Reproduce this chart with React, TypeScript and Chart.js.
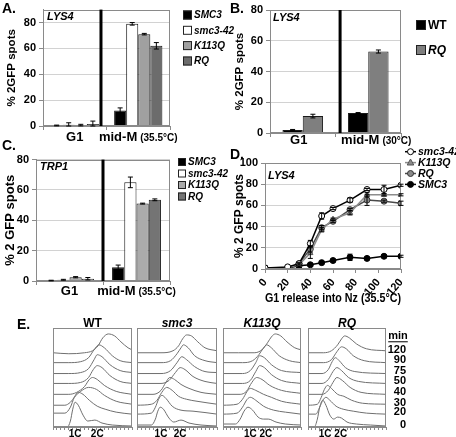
import React, { useEffect, useRef } from "react";
import { Chart, registerables } from "chart.js";
Chart.register(...registerables);

const FONT = "'Liberation Sans', Arial, Helvetica, sans-serif";
Chart.defaults.font.family = FONT;
Chart.defaults.color = "#000";
const fnt = (size: number, italic = false) => `${italic ? "italic " : ""}bold ${size}px ${FONT}`;

// ---------------- Panel A data ----------------
const catsA = ["G1", "mid-M"];
const notesA = ["", "(35.5°C)"];
const namesA = ["SMC3", "smc3-42", "K113Q", "RQ"];
const A_SMC3 = [0.4, 12];
const A_smc342 = [1.0, 79];
const A_K113Q = [0.7, 71];
const A_RQ = [1.5, 62];
const A_SMC3_err = [0.3, 2];
const A_smc342_err = [1.5, 1];
const A_K113Q_err = [0.6, 0.6];
const A_RQ_err = [2.3, 2.5];

// ---------------- Panel B data ----------------
const catsB = ["G1", "mid-M"];
const notesB = ["", "(30°C)"];
const namesB = ["WT", "RQ"];
const B_WT = [2, 13];
const B_RQ = [11, 53];
const B_WT_err = [0.3, 0.3];
const B_RQ_err = [1.2, 1];

// ---------------- Panel C data ----------------
const catsC = ["G1", "mid-M"];
const notesC = ["", "(35.5°C)"];
const namesC = ["SMC3", "smc3-42", "K113Q", "RQ"];
const C_SMC3 = [0.3, 9];
const C_smc342 = [0.8, 65];
const C_K113Q = [2.5, 51];
const C_RQ = [1.5, 53.5];
const C_SMC3_err = [0.2, 1.5];
const C_smc342_err = [0.3, 3.5];
const C_K113Q_err = [0.4, 0.3];
const C_RQ_err = [0.8, 0.6];

// ---------------- Panel D data ----------------
const timesD = [0, 20, 30, 40, 50, 60, 75, 90, 105, 120];
const namesD = ["smc3-42", "K113Q", "RQ", "SMC3"];
const D_smc342 = [1, 2, 5, 24, 50, 57, 65, 75, 75, 79];
const D_K113Q = [1, 1.5, 4, 15, 37, 47, 53, 70, 70, 70];
const D_RQ = [1, 1, 5, 19, 39, 45, 56, 65, 64, 62];
const D_SMC3 = [1, 1, 3, 4, 6, 8, 11, 10, 12, 12];
const D_smc342_err = [0, 0, 0, 3, 3, 1, 2, 1, 4, 1];
const D_K113Q_err = [0, 0, 1, 5, 2, 1, 2, 2, 1, 1];
const D_RQ_err = [0, 0, 1, 3, 2, 1, 1, 5, 1, 2];
const D_SMC3_err = [0, 0, 0, 1, 1, 1, 3, 1, 1, 1];

// ---------------- Panel E data (flow histograms, x = % of DNA axis, y = stacked offset) ----------------
const timesE = ["0", "20", "30", "40", "50", "75", "90", "120"];
const strainsE = ["WT", "smc3", "K113Q", "RQ"];
const pos1C = [28, 30, 35, 22];
const pos2C = [56, 54, 55, 42];
const histWT = [
  [[0, 0], [18, 0], [22, 6], [25, 18], [28, 25], [32, 22], [38, 12], [44, 6], [53, 7], [62, 4], [75, 2], [100, 1]],
  [[0, 14], [15, 14], [22, 20], [27, 30], [32, 35], [38, 33], [46, 27], [56, 21], [66, 18], [80, 15], [100, 13]],
  [[0, 22], [15, 22], [22, 25], [28, 31], [35, 36], [45, 40], [55, 38], [65, 32], [80, 26], [100, 23]],
  [[0, 33], [20, 33], [30, 35], [40, 41], [46, 48], [50, 50], [56, 48], [65, 42], [80, 36], [100, 33]],
  [[0, 44], [20, 44], [35, 45], [45, 50], [51, 58], [56, 62], [62, 60], [72, 52], [85, 46], [100, 44]],
  [[0, 54], [20, 54], [35, 55], [45, 59], [52, 68], [56, 73], [62, 71], [72, 63], [85, 57], [100, 55]],
  [[0, 65], [20, 65], [35, 66], [45, 70], [52, 78], [58, 83], [65, 80], [75, 72], [85, 67], [100, 65]],
  [[0, 75], [20, 74], [40, 75], [50, 77], [57, 82], [63, 90], [70, 94], [78, 92], [86, 86], [95, 80], [100, 78]],
];
const histSmc3 = [
  [[0, 2], [18, 2], [23, 8], [26, 16], [29, 20], [33, 18], [40, 9], [46, 5], [55, 7], [65, 4], [80, 2], [100, 1]],
  [[0, 13], [18, 14], [23, 20], [27, 28], [31, 32], [36, 29], [44, 21], [55, 17], [70, 16], [100, 13]],
  [[0, 22], [18, 23], [25, 27], [31, 35], [37, 40], [44, 37], [52, 31], [62, 28], [75, 26], [100, 23]],
  [[0, 33], [20, 33], [30, 37], [36, 45], [41, 50], [47, 48], [55, 43], [65, 39], [80, 35], [100, 33]],
  [[0, 44], [30, 44], [40, 47], [48, 55], [54, 60], [60, 58], [70, 51], [85, 46], [100, 44]],
  [[0, 54], [30, 54], [42, 57], [50, 65], [56, 71], [62, 68], [72, 61], [85, 56], [100, 55]],
  [[0, 65], [30, 65], [42, 67], [50, 74], [55, 80], [58, 83], [64, 80], [72, 72], [85, 67], [100, 65]],
  [[0, 75], [30, 75], [45, 77], [52, 82], [57, 89], [62, 93], [68, 92], [76, 86], [85, 80], [100, 77]],
];
const histK113Q = [
  [[0, 3], [16, 3], [22, 8], [27, 16], [32, 20], [38, 17], [45, 10], [52, 8], [58, 8], [68, 5], [80, 3], [100, 2]],
  [[0, 13], [18, 14], [25, 20], [31, 28], [35, 30], [42, 27], [52, 21], [65, 17], [80, 15], [100, 13]],
  [[0, 22], [18, 23], [25, 28], [31, 36], [35, 39], [42, 37], [52, 33], [62, 30], [75, 26], [100, 23]],
  [[0, 33], [22, 33], [30, 36], [37, 45], [43, 50], [50, 48], [60, 42], [75, 37], [100, 34]],
  [[0, 44], [25, 44], [35, 47], [42, 56], [47, 62], [53, 60], [62, 53], [75, 47], [100, 44]],
  [[0, 54], [25, 54], [35, 57], [42, 65], [47, 72], [53, 70], [62, 63], [75, 57], [100, 55]],
  [[0, 65], [25, 65], [38, 67], [46, 73], [52, 80], [56, 83], [62, 80], [72, 72], [85, 67], [100, 65]],
  [[0, 75], [20, 75], [40, 75], [50, 78], [57, 85], [62, 91], [67, 94], [74, 92], [82, 86], [92, 80], [100, 78]],
];
const histRQ = [
  [[0, 0], [8, 0], [12, 8], [15, 20], [19, 27], [23, 22], [28, 12], [33, 8], [38, 10], [43, 9], [50, 5], [62, 3], [80, 2], [100, 1]],
  [[0, 13], [10, 13], [15, 20], [19, 27], [23, 30], [28, 27], [36, 21], [45, 18], [58, 16], [75, 14], [100, 13]],
  [[0, 22], [12, 23], [17, 30], [21, 38], [25, 42], [30, 39], [38, 33], [46, 31], [56, 27], [70, 24], [100, 23]],
  [[0, 33], [18, 33], [26, 37], [32, 45], [37, 50], [44, 47], [54, 40], [68, 35], [100, 33]],
  [[0, 44], [18, 44], [26, 48], [32, 56], [37, 60], [43, 57], [52, 50], [65, 46], [100, 44]],
  [[0, 54], [18, 54], [26, 58], [31, 66], [35, 70], [40, 67], [48, 60], [60, 56], [100, 54]],
  [[0, 65], [20, 65], [30, 68], [37, 76], [43, 81], [49, 79], [58, 72], [72, 67], [100, 65]],
  [[0, 75], [20, 75], [30, 77], [38, 83], [43, 89], [47, 92], [53, 90], [62, 84], [75, 79], [100, 77]],
];

// ---------------- helpers ----------------
const BORDER = "#8a8a8a";
const GRID = "#d2d2d2";

function drawBox(ctx: any, ca: any) {
  ctx.strokeStyle = BORDER;
  ctx.lineWidth = 1;
  ctx.strokeRect(Math.round(ca.left) + 0.5, Math.round(ca.top) + 0.5, Math.round(ca.right - ca.left) - 1, Math.round(ca.bottom - ca.top) - 1);
}

function drawErr(ctx: any, x: number, y1: number, y2: number) {
  ctx.strokeStyle = "#000";
  ctx.lineWidth = 1;
  ctx.beginPath();
  ctx.moveTo(x, y1); ctx.lineTo(x, y2);
  ctx.moveTo(x - 2.5, y1); ctx.lineTo(x + 2.5, y1);
  ctx.moveTo(x - 2.5, y2); ctx.lineTo(x + 2.5, y2);
  ctx.stroke();
}

function barDecor(p: any) {
  return {
    id: "decor",
    afterDraw(chart: any) {
      const { ctx, chartArea: ca, scales } = chart;
      const xs = scales.x, ys = scales.y;
      ctx.save();
      drawBox(ctx, ca);
      p.series.forEach((s: any, i: number) => {
        chart.getDatasetMeta(i).data.forEach((el: any, j: number) => {
          const v = s.values[j], e = s.errors[j];
          if (!e) return;
          drawErr(ctx, el.x, ys.getPixelForValue(v + e), ys.getPixelForValue(Math.max(0, v - e)));
        });
      });
      const dx = xs.getPixelForValue(p.divider);
      ctx.fillStyle = "#000";
      ctx.fillRect(dx - 1.5, ca.top, 3, ca.bottom - ca.top);
      ctx.textBaseline = "middle";
      ctx.textAlign = "left";
      p.cats.forEach((c: string, i: number) => {
        const cx = xs.getPixelForValue(i) + (p.labelShift ? p.labelShift[i] : 0);
        ctx.font = fnt(13);
        const w1 = ctx.measureText(c).width;
        const note = p.notes[i];
        ctx.font = fnt(10);
        const w2 = note ? ctx.measureText(note).width + 3 : 0;
        const x0 = cx - (w1 + w2) / 2;
        const y = ca.bottom + p.labelDy;
        ctx.font = fnt(13);
        ctx.fillText(c, x0, y);
        if (note) {
          ctx.font = fnt(10);
          ctx.fillText(note, x0 + w1 + 3, y + 1);
        }
      });
      p.series.forEach((s: any, i: number) => {
        const y = p.legendY[i];
        const b = p.legendBox;
        ctx.fillStyle = s.color;
        ctx.fillRect(p.legendX, y - b / 2, b, b);
        ctx.strokeStyle = "#222";
        ctx.lineWidth = 1;
        ctx.strokeRect(p.legendX + 0.5, y - b / 2 + 0.5, b - 1, b - 1);
        ctx.fillStyle = "#000";
        ctx.font = fnt(p.legendFont, s.italic);
        ctx.textAlign = "left";
        ctx.fillText(s.name, p.legendX + b + 2, y + 0.5);
      });
      ctx.font = fnt(11, true);
      ctx.fillText(p.tag, ca.left + p.tagDx, ca.top + p.tagDy);
      ctx.restore();
    },
  };
}

function barConfig(p: any) {
  return {
    type: "bar",
    data: {
      labels: p.cats,
      datasets: p.series.map((s: any) => ({
        label: s.name,
        data: s.values,
        backgroundColor: s.color,
        borderColor: "#1a1a1a",
        borderWidth: 1,
        categoryPercentage: p.catPct,
        barPercentage: 1,
      })),
    },
    options: {
      animation: false,
      responsive: false,
      devicePixelRatio: 1,
      layout: { padding: { left: 0, top: p.padTop, right: p.padRight, bottom: 0 } },
      plugins: { legend: { display: false }, tooltip: { enabled: false } },
      scales: {
        x: {
          grid: { display: true, drawOnChartArea: false, drawTicks: true, tickLength: 4, color: BORDER, offset: true },
          border: { display: true, color: BORDER },
          ticks: { display: false },
          afterFit: (s: any) => { s.height = p.xAxisH; },
        },
        y: {
          min: 0,
          max: p.yMax,
          ticks: { stepSize: 10, color: "#000", font: { size: p.tickSize, weight: "bold" }, padding: 3 },
          grid: { color: GRID, tickLength: 4, tickColor: BORDER },
          border: { display: true, color: BORDER },
          title: { display: true, text: p.yTitle, color: "#000", font: { size: p.yTitleSize, weight: "bold" }, padding: { top: p.yTitlePad, bottom: 0 } },
          afterFit: (s: any) => { s.width = p.yAxisW; },
        },
      },
    },
    plugins: [barDecor(p)],
  };
}

function drawMarker(ctx: any, style: string, x: number, y: number, r: number, fill: string, edge: string) {
  ctx.beginPath();
  if (style === "triangle") {
    ctx.moveTo(x, y - r * 1.2);
    ctx.lineTo(x + r * 1.1, y + r * 0.8);
    ctx.lineTo(x - r * 1.1, y + r * 0.8);
    ctx.closePath();
  } else {
    ctx.arc(x, y, r, 0, Math.PI * 2);
  }
  ctx.fillStyle = fill;
  ctx.fill();
  ctx.strokeStyle = edge;
  ctx.lineWidth = 1;
  ctx.stroke();
}

const seriesD = [
  { name: namesD[0], values: D_smc342, errors: D_smc342_err, line: "#000", fill: "#fff", edge: "#000", marker: "circle" },
  { name: namesD[1], values: D_K113Q, errors: D_K113Q_err, line: "#8c8c8c", fill: "#8c8c8c", edge: "#555", marker: "triangle" },
  { name: namesD[2], values: D_RQ, errors: D_RQ_err, line: "#4a4a4a", fill: "#8a8a8a", edge: "#333", marker: "circle" },
  { name: namesD[3], values: D_SMC3, errors: D_SMC3_err, line: "#000", fill: "#000", edge: "#000", marker: "circle" },
];

function lineConfigD() {
  const legendY = [11.7, 22.6, 33.5, 44.4];
  return {
    type: "line",
    data: {
      datasets: seriesD.map((s) => ({
        label: s.name,
        data: timesD.map((t, i) => ({ x: t, y: s.values[i] })),
        borderColor: s.line,
        borderWidth: 1.5,
        backgroundColor: s.fill,
        pointBackgroundColor: s.fill,
        pointBorderColor: s.edge,
        pointBorderWidth: 1,
        pointRadius: 3,
        pointStyle: s.marker,
        tension: 0,
      })),
    },
    options: {
      animation: false,
      responsive: false,
      devicePixelRatio: 1,
      layout: { padding: { left: 0, top: 23, right: 55, bottom: 0 } },
      plugins: { legend: { display: false }, tooltip: { enabled: false } },
      scales: {
        x: {
          type: "linear",
          min: 0,
          max: 120,
          ticks: { stepSize: 20, color: "#000", font: { size: 11, weight: "bold" }, padding: 3 },
          grid: { drawOnChartArea: false, tickLength: 4, color: BORDER },
          border: { display: true, color: BORDER },
          title: { display: true, text: "G1 release into Nz (35.5°C)", color: "#000", font: { size: 12, weight: "bold" }, padding: { top: 2, bottom: 4 } },
          afterFit: (s: any) => { s.height = 41; },
        },
        y: {
          min: 0,
          max: 100,
          ticks: { stepSize: 20, color: "#000", font: { size: 11, weight: "bold" }, padding: 3 },
          grid: { color: GRID, tickLength: 4, tickColor: BORDER },
          border: { display: true, color: BORDER },
          title: { display: true, text: "% 2 GFP spots", color: "#000", font: { size: 12, weight: "bold" }, padding: { top: 4, bottom: 0 } },
          afterFit: (s: any) => { s.width = 37; },
        },
      },
    },
    plugins: [
      {
        id: "decorD",
        afterDraw(chart: any) {
          const { ctx, chartArea: ca, scales } = chart;
          const ys = scales.y;
          ctx.save();
          drawBox(ctx, ca);
          seriesD.forEach((s, i) => {
            chart.getDatasetMeta(i).data.forEach((el: any, j: number) => {
              const e = s.errors[j];
              if (!e) return;
              const v = s.values[j];
              drawErr(ctx, el.x, ys.getPixelForValue(v + e), ys.getPixelForValue(Math.max(0, v - e)));
            });
          });
          seriesD.forEach((s, i) => {
            const y = legendY[i];
            ctx.strokeStyle = s.line;
            ctx.lineWidth = 1.5;
            ctx.beginPath();
            ctx.moveTo(177, y);
            ctx.lineTo(188, y);
            ctx.stroke();
            drawMarker(ctx, s.marker, 182.5, y, 3, s.fill, s.edge);
            ctx.fillStyle = "#000";
            ctx.font = fnt(10.5, true);
            ctx.textBaseline = "middle";
            ctx.textAlign = "left";
            ctx.fillText(s.name, 190, y + 0.5);
          });
          ctx.font = fnt(11, true);
          ctx.textBaseline = "middle";
          ctx.fillText("LYS4", ca.left + 3, ca.top + 13);
          ctx.restore();
        },
      },
    ],
  };
}

function histConfig(curves: any[], idx: number, padLeft: number, padRight: number, withMin: boolean) {
  return {
    type: "line",
    data: {
      datasets: curves.map((c: any, i: number) => ({
        label: timesE[i],
        data: c.map(([x, y]: number[]) => ({ x, y })),
        borderColor: "#6f6f6f",
        borderWidth: 1,
        pointRadius: 0,
        cubicInterpolationMode: "monotone",
        fill: false,
      })),
    },
    options: {
      animation: false,
      responsive: false,
      devicePixelRatio: 1,
      layout: { padding: { left: padLeft, right: padRight, top: 16, bottom: 0 } },
      plugins: { legend: { display: false }, tooltip: { enabled: false } },
      scales: {
        x: {
          type: "linear",
          min: 0,
          max: 100,
          ticks: { display: false, stepSize: 5 },
          grid: { drawOnChartArea: false, tickLength: 3, color: BORDER },
          border: { display: true, color: BORDER },
          afterFit: (s: any) => { s.height = 10; },
        },
        y: { display: false, min: 0, max: 100 },
      },
    },
    plugins: [
      {
        id: "decorE",
        afterDraw(chart: any) {
          const { ctx, chartArea: ca, scales } = chart;
          const xs = scales.x, ys = scales.y;
          ctx.save();
          drawBox(ctx, ca);
          ctx.fillStyle = "#000";
          ctx.textAlign = "center";
          ctx.textBaseline = "alphabetic";
          ctx.font = fnt(12, idx > 0);
          ctx.fillText(strainsE[idx], (ca.left + ca.right) / 2, ca.top - 1.5);
          ctx.font = fnt(10);
          ctx.fillText("1C", xs.getPixelForValue(pos1C[idx]), ca.bottom + 9.5);
          ctx.fillText("2C", xs.getPixelForValue(pos2C[idx]), ca.bottom + 9.5);
          if (withMin) {
            ctx.textAlign = "right";
            ctx.textBaseline = "middle";
            ctx.font = fnt(11);
            const rx = ca.right + 20;
            let topY = 0;
            curves.forEach((c: any, i: number) => {
              const y = ys.getPixelForValue(c[0][1] + 2.5);
              ctx.fillText(timesE[i], rx, y);
              if (i === curves.length - 1) topY = y;
            });
            ctx.textAlign = "center";
            const mx = rx - 8;
            const my = topY - 14;
            ctx.fillText("min", mx, my);
            const w = ctx.measureText("min").width;
            ctx.fillRect(mx - w / 2, my + 5, w, 1);
          }
          ctx.restore();
        },
      },
    ],
  };
}

// ---------------- panel specs ----------------
const panelA = {
  cats: catsA, notes: notesA, yMax: 90, yTitle: "% 2GFP spots", yTitleSize: 11.5, yTitlePad: 5, tickSize: 11,
  yAxisW: 43, padTop: 8, padRight: 66, xAxisH: 24, labelDy: 11, catPct: 0.76, divider: 0.413,
  legendX: 183, legendY: [15, 30.3, 45.6, 61], legendBox: 9, legendFont: 10,
  tag: "LYS4", tagDx: 4, tagDy: 7,
  series: [
    { name: namesA[0], values: A_SMC3, errors: A_SMC3_err, color: "#000000", italic: true },
    { name: namesA[1], values: A_smc342, errors: A_smc342_err, color: "#ffffff", italic: true },
    { name: namesA[2], values: A_K113Q, errors: A_K113Q_err, color: "#a0a0a0", italic: true },
    { name: namesA[3], values: A_RQ, errors: A_RQ_err, color: "#6c6c6c", italic: true },
  ],
};
const panelB = {
  cats: catsB, notes: notesB, yMax: 80, yTitle: "% 2GFP spots", yTitleSize: 11.5, yTitlePad: 5, tickSize: 11,
  yAxisW: 42, padTop: 10, padRight: 55, xAxisH: 17, labelDy: 7.5, catPct: 0.62, divider: 0.57,
  labelShift: [-4, 8],
  legendX: 188, legendY: [25, 50], legendBox: 10, legendFont: 12,
  tag: "LYS4", tagDx: 3, tagDy: 8,
  series: [
    { name: namesB[0], values: B_WT, errors: B_WT_err, color: "#000000", italic: false },
    { name: namesB[1], values: B_RQ, errors: B_RQ_err, color: "#7f7f7f", italic: true },
  ],
};
const panelC = {
  cats: catsC, notes: notesC, yMax: 80, yTitle: "% 2 GFP spots", yTitleSize: 13, yTitlePad: 3, tickSize: 11,
  yAxisW: 36, padTop: 9, padRight: 66, xAxisH: 24, labelDy: 10, catPct: 0.73, divider: 0.5,
  legendX: 178, legendY: [12, 23.5, 35, 46.5], legendBox: 8, legendFont: 10,
  tag: "TRP1", tagDx: 4, tagDy: 7,
  series: [
    { name: namesC[0], values: C_SMC3, errors: C_SMC3_err, color: "#000000", italic: true },
    { name: namesC[1], values: C_smc342, errors: C_smc342_err, color: "#ffffff", italic: true },
    { name: namesC[2], values: C_K113Q, errors: C_K113Q_err, color: "#ababab", italic: true },
    { name: namesC[3], values: C_RQ, errors: C_RQ_err, color: "#747474", italic: true },
  ],
};

function ChartCanvas({ x, y, w, h, make }: any) {
  const ref = useRef<HTMLCanvasElement>(null);
  useEffect(() => {
    const chart = new Chart(ref.current as HTMLCanvasElement, make());
    return () => chart.destroy();
  }, []);
  return (
    <canvas ref={ref} width={w} height={h}
      style={{ position: "absolute", left: x, top: y, width: w, height: h, display: "block" }} />
  );
}

const letters = [
  { t: "A.", x: 2, y: 1 },
  { t: "B.", x: 230, y: 1 },
  { t: "C.", x: 2, y: 138 },
  { t: "D.", x: 230, y: 147 },
  { t: "E.", x: 17, y: 317 },
];

export default function App() {
  return (
    <div style={{ position: "absolute", left: 0, top: 0, width: 456, height: 437, background: "#fff", overflow: "hidden", fontFamily: FONT }}>
      <ChartCanvas x={228} y={0} w={228} h={150} make={() => barConfig(panelB)} />
      <ChartCanvas x={0} y={0} w={236} h={150} make={() => barConfig(panelA)} />
      <ChartCanvas x={228} y={140} w={228} h={170} make={() => lineConfigD()} />
      <ChartCanvas x={0} y={150} w={236} h={155} make={() => barConfig(panelC)} />
      <ChartCanvas x={50} y={312} w={86} h={125} make={() => histConfig(histWT, 0, 3, 4, false)} />
      <ChartCanvas x={134} y={312} w={87} h={125} make={() => histConfig(histSmc3, 1, 3, 4, false)} />
      <ChartCanvas x={220} y={312} w={85} h={125} make={() => histConfig(histK113Q, 2, 3, 4, false)} />
      <ChartCanvas x={305} y={312} w={151} h={125} make={() => histConfig(histRQ, 3, 3, 70, true)} />
      {letters.map((l) => (
        <div key={l.t} style={{ position: "absolute", left: l.x, top: l.y, fontSize: 14, lineHeight: "14px", fontWeight: "bold", color: "#000" }}>
          {l.t}
        </div>
      ))}
    </div>
  );
}
